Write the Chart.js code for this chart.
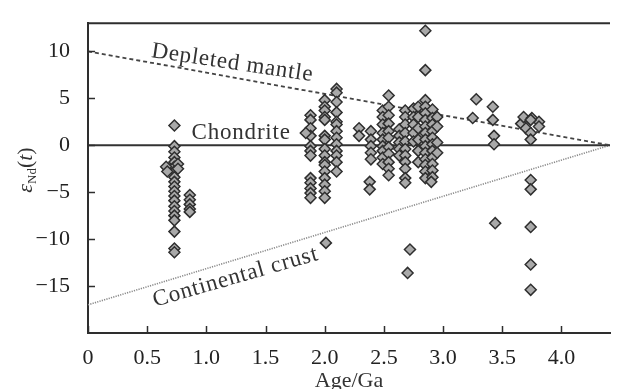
<!DOCTYPE html>
<html>
<head>
<meta charset="utf-8">
<script src="https://cdn.jsdelivr.net/npm/chart.js@4"></script>
<style>
  html, body { margin: 0; padding: 0; background: #fff; }
</style>
</head>
<body>
<canvas id="chart" width="617" height="389"></canvas>
<script>
// axis ticks
const xTicks = [0, 0.5, 1.0, 1.5, 2.0, 2.5, 3.0, 3.5, 4.0];
const yTicks = [-15, -10, -5, 0, 5, 10];

// sample points, [age Ga, eNd(t)]
const group07 = [
  [0.73, 2.1], [0.73, -0.1], [0.73, -0.7], [0.73, -1.3], [0.73, -1.8], [0.73, -2.3],
  [0.73, -2.8], [0.73, -3.4], [0.73, -3.9], [0.73, -4.4], [0.73, -4.9], [0.73, -5.4],
  [0.73, -5.9], [0.73, -6.5], [0.73, -7.0], [0.73, -7.5], [0.73, -8.0], [0.73, -9.2],
  [0.73, -11.0], [0.73, -11.4], [0.66, -2.3], [0.67, -2.8], [0.76, -2.0], [0.76, -2.5],
  [0.86, -5.3], [0.86, -5.8], [0.86, -6.3], [0.86, -6.8], [0.86, -7.1]
];
const group20 = [
  [1.88, 3.2], [1.88, 2.7], [1.88, 1.8], [1.88, 1.0], [1.88, -0.1], [1.88, -0.6],
  [1.88, -1.1], [1.88, -3.5], [1.88, -4.0], [1.88, -4.6], [1.88, -5.1], [1.88, -5.6],
  [1.84, 1.3],
  [2.0, 4.8], [2.0, 4.1], [2.0, 3.7], [2.0, 3.0], [2.0, 2.7], [2.0, 1.0], [2.0, 0.6],
  [2.0, -0.4], [2.0, -1.1], [2.0, -1.8], [2.0, -2.1], [2.0, -2.8], [2.0, -3.5],
  [2.0, -4.2], [2.0, -4.9], [2.0, -5.6], [2.01, -10.4],
  [2.1, 6.0], [2.1, 5.6], [2.1, 4.6], [2.1, 3.5], [2.1, 2.5], [2.1, 2.2], [2.1, 1.5],
  [2.1, 0.8], [2.1, 0.1], [2.1, -0.6], [2.1, -1.1], [2.1, -1.8], [2.1, -2.8]
];
const group25 = [
  [2.29, 1.8], [2.29, 1.0],
  [2.39, 1.5], [2.39, 0.6], [2.39, -0.1], [2.39, -0.8], [2.39, -1.5], [2.38, -3.9], [2.38, -4.7],
  [2.49, 3.7], [2.49, 3.0], [2.49, 2.2], [2.49, 1.3], [2.49, 0.6], [2.49, -0.1],
  [2.49, -0.6], [2.49, -1.3], [2.49, -2.0],
  [2.54, 5.3], [2.54, 4.1], [2.54, 3.2], [2.54, 2.3], [2.54, 1.5], [2.54, 0.8],
  [2.54, -0.2], [2.54, -0.9], [2.54, -1.8], [2.54, -2.5], [2.54, -3.2],
  [2.63, 1.7], [2.63, 1.0], [2.63, 0.3], [2.63, -0.4], [2.63, -1.1],
  [2.68, 3.7], [2.68, 3.0], [2.68, 2.2], [2.68, 1.3], [2.68, 0.4], [2.68, -0.4],
  [2.68, -1.1], [2.68, -1.8], [2.68, -2.5], [2.68, -3.5], [2.68, -4.0],
  [2.72, -11.1], [2.70, -13.6],
  [2.75, 3.9], [2.75, 3.0], [2.75, 2.2], [2.75, 1.3], [2.75, 0.4]
];
const group28 = [
  [2.79, 4.1], [2.79, 3.0], [2.79, 1.8], [2.79, 0.6], [2.79, -0.6], [2.79, -1.8],
  [2.85, 12.2], [2.85, 8.0], [2.85, 4.8], [2.85, 4.1], [2.85, 3.4], [2.85, 2.7],
  [2.85, 2.0], [2.85, 1.3], [2.85, 0.6], [2.85, -0.1], [2.85, -0.8], [2.85, -1.5],
  [2.85, -2.1], [2.85, -2.8], [2.85, -3.5],
  [2.91, 3.8], [2.91, 2.9], [2.91, 2.2], [2.91, 1.5], [2.91, 0.8], [2.91, 0.1],
  [2.91, -0.6], [2.91, -1.3], [2.91, -2.0], [2.91, -2.7], [2.91, -3.4], [2.90, -3.9],
  [2.95, 3.0], [2.95, 2.0], [2.95, 0.3], [2.95, -0.8]
];
const group34 = [
  [3.28, 4.9], [3.25, 2.9], [3.42, 4.1], [3.42, 2.7], [3.43, 1.0], [3.43, 0.1], [3.44, -8.3]
];
const group37 = [
  [3.66, 2.3], [3.68, 3.0], [3.75, 2.9], [3.81, 2.5], [3.81, 2.0], [3.70, 1.8],
  [3.74, 2.7], [3.74, 1.3], [3.74, 0.6], [3.74, -3.7], [3.74, -4.7], [3.74, -8.7],
  [3.74, -12.7], [3.74, -15.4]
];

// evolution lines
const depletedMantle = [[0, 10], [4.41, 0]];
const chondrite = [[0, 0], [4.41, 0]];
const continentalCrust = [[0, -17], [4.41, 0]];

const toXY = arr => arr.map(p => ({ x: p[0], y: p[1] }));
const allSamples = [].concat(group07, group20, group25, group28, group34, group37);

const serif = '"Liberation Serif", "Times New Roman", Times, serif';
const ink = '#2e2e2e';

const decorPlugin = {
  id: 'decor',
  afterDraw(chart) {
    const ctx = chart.ctx;
    const a = chart.chartArea;
    const xs = chart.scales.x, ys = chart.scales.y;
    ctx.save();
    // top frame line
    ctx.strokeStyle = ink;
    ctx.lineWidth = 2;
    ctx.beginPath();
    ctx.moveTo(a.left - 1, a.top);
    ctx.lineTo(a.right, a.top);
    ctx.stroke();
    // inward tick marks
    ctx.lineWidth = 1.5;
    xTicks.forEach(v => {
      const px = Math.round(xs.getPixelForValue(v)) + 0.5;
      ctx.beginPath();
      ctx.moveTo(px, a.bottom);
      ctx.lineTo(px, a.bottom - 7);
      ctx.stroke();
    });
    yTicks.forEach(v => {
      const py = Math.round(ys.getPixelForValue(v)) + 0.5;
      ctx.beginPath();
      ctx.moveTo(a.left, py);
      ctx.lineTo(a.left + 7, py);
      ctx.stroke();
    });

    // annotations
    ctx.fillStyle = '#333';
    ctx.textBaseline = 'alphabetic';
    ctx.textAlign = 'left';
    if ('letterSpacing' in ctx) ctx.letterSpacing = '0.8px';
    ctx.font = '23px ' + serif;

    ctx.save();
    ctx.translate(xs.getPixelForValue(0.53), ys.getPixelForValue(9.4));
    ctx.rotate(8.5 * Math.PI / 180);
    ctx.fillText('Depleted mantle', 0, 0);
    ctx.restore();

    ctx.fillText('Chondrite', xs.getPixelForValue(0.875), ys.getPixelForValue(0.7));

    ctx.save();
    ctx.translate(xs.getPixelForValue(0.565), ys.getPixelForValue(-17.2));
    ctx.rotate(-16 * Math.PI / 180);
    ctx.fillText('Continental crust', 0, 0);
    ctx.restore();

    if ('letterSpacing' in ctx) ctx.letterSpacing = '0px';

    // x title
    ctx.font = '22px ' + serif;
    ctx.textAlign = 'center';
    ctx.fillText('Age/Ga', (a.left + a.right) / 2, 387);

    // y title: eNd(t)
    const parts = [
      { t: '\u03b5', f: 'italic 22px ' + serif, dy: 0 },
      { t: 'Nd', f: '13px ' + serif, dy: 4 },
      { t: '(', f: '22px ' + serif, dy: 0 },
      { t: 't', f: 'italic 22px ' + serif, dy: 0 },
      { t: ')', f: '22px ' + serif, dy: 0 }
    ];
    let total = 0;
    parts.forEach(p => { ctx.font = p.f; p.w = ctx.measureText(p.t).width; total += p.w; });
    ctx.save();
    ctx.translate(25, 170);
    ctx.rotate(-Math.PI / 2);
    ctx.textAlign = 'left';
    let cx = -total / 2;
    parts.forEach(p => {
      ctx.font = p.f;
      ctx.fillText(p.t, cx, 7 + p.dy);
      cx += p.w;
    });
    ctx.restore();
    ctx.restore();
  }
};

new Chart(document.getElementById('chart'), {
  type: 'scatter',
  data: {
    datasets: [
      {
        label: 'Samples',
        data: toXY(allSamples),
        pointStyle: 'rectRot',
        pointRadius: 5.5,
        pointBackgroundColor: '#a9a9a9',
        pointBorderColor: '#2f2f2f',
        pointBorderWidth: 1.5,
        order: 0
      },
      {
        label: 'Depleted mantle',
        data: toXY(depletedMantle),
        showLine: true,
        pointRadius: 0,
        borderColor: '#444',
        borderWidth: 1.8,
        borderDash: [4, 3],
        order: 1
      },
      {
        label: 'Chondrite',
        data: toXY(chondrite),
        showLine: true,
        pointRadius: 0,
        borderColor: '#333',
        borderWidth: 1.8,
        order: 1
      },
      {
        label: 'Continental crust',
        data: toXY(continentalCrust),
        showLine: true,
        pointRadius: 0,
        borderColor: '#8a8a8a',
        borderWidth: 1.6,
        borderDash: [1.2, 1.2],
        order: 1
      }
    ]
  },
  options: {
    responsive: false,
    animation: false,
    devicePixelRatio: 1,
    layout: { padding: { top: 14, right: 0, left: 0, bottom: 0 } },
    plugins: {
      legend: { display: false },
      tooltip: { enabled: false }
    },
    scales: {
      x: {
        type: 'linear',
        min: 0,
        max: 4.41,
        afterBuildTicks: s => { s.ticks = xTicks.map(v => ({ value: v })); },
        afterFit: s => { s.height = 56; },
        grid: { display: false },
        border: { display: true, color: ink, width: 2 },
        ticks: {
          color: '#222',
          padding: 4,
          font: { family: serif, size: 22 },
          callback: v => (v === 0 ? '0' : v.toFixed(1))
        }
      },
      y: {
        type: 'linear',
        min: -20,
        max: 13,
        afterBuildTicks: s => { s.ticks = yTicks.map(v => ({ value: v })); },
        afterFit: s => { s.width = 88; },
        grid: { display: false },
        border: { display: true, color: ink, width: 2 },
        ticks: {
          color: '#222',
          padding: 10,
          font: { family: serif, size: 22 },
          callback: v => (v < 0 ? '\u2212' + Math.abs(v) : String(v))
        }
      }
    }
  },
  plugins: [decorPlugin]
});
</script>
</body>
</html>
